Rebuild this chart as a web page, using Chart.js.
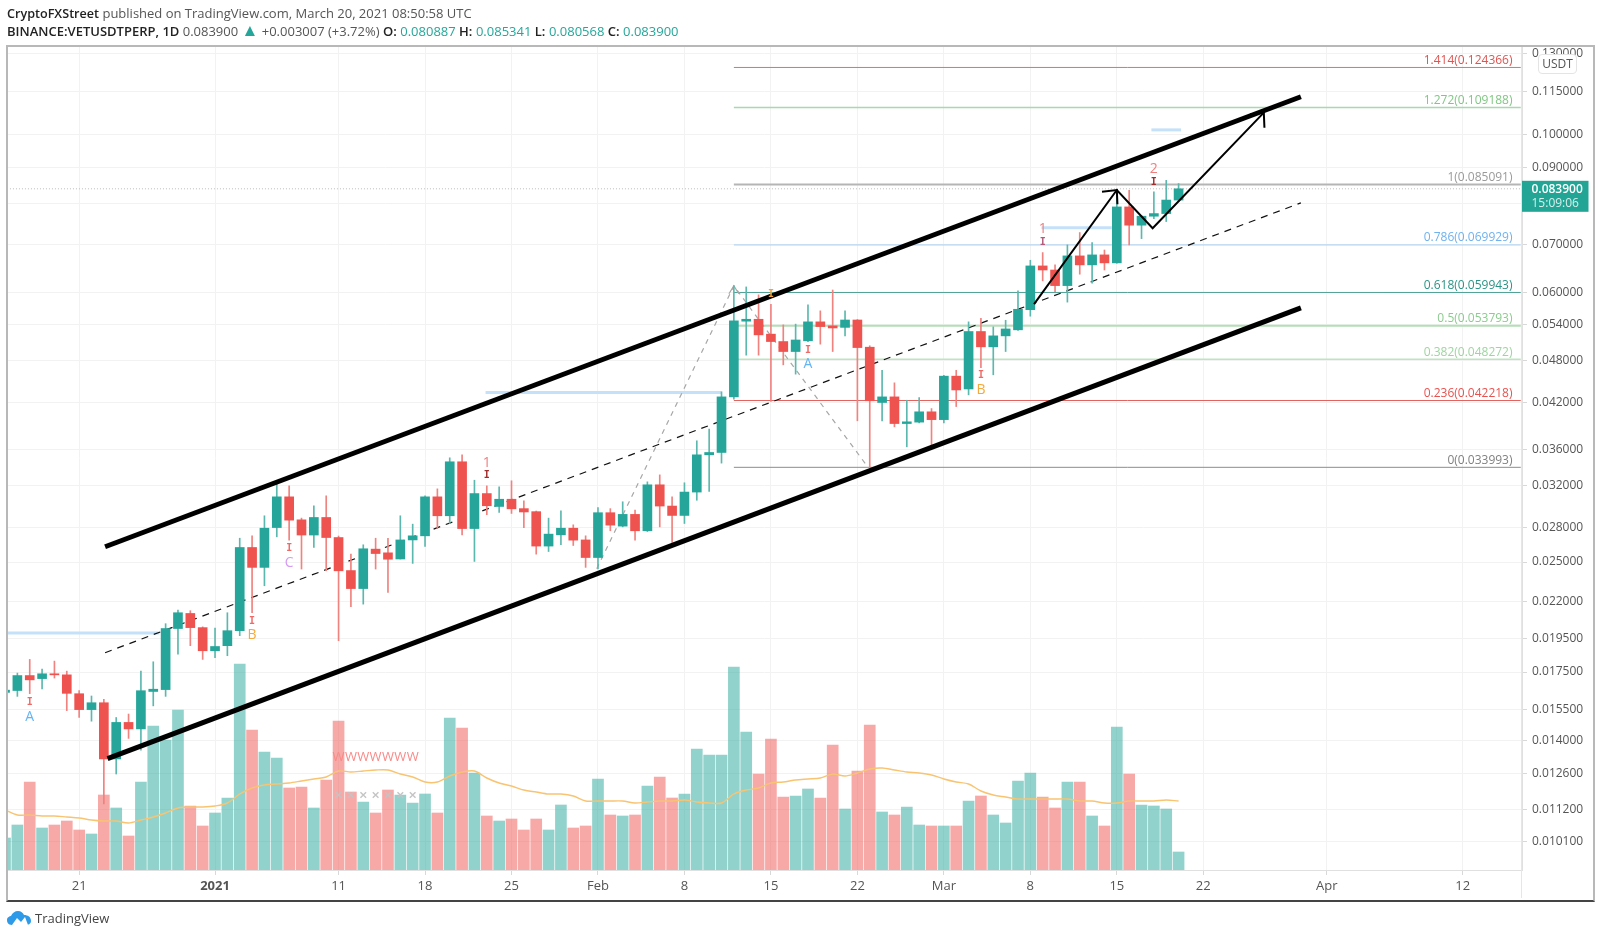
<!DOCTYPE html>
<html>
<head>
<meta charset="utf-8">
<title>VETUSDTPERP</title>
<script src="https://cdn.jsdelivr.net/npm/chart.js@4/dist/chart.umd.min.js"></script>
<style>
  html, body { margin: 0; padding: 0; background: #fff; }
  body { width: 1600px; height: 938px; position: relative; overflow: hidden; font-family: "Open Sans", sans-serif; }
  canvas { position: absolute; left: 0; top: 0; }
  .head { position: absolute; left: 7px; font-size: 13px; color: #555; white-space: nowrap; line-height: 18px; }
  .head b { color: #222; font-weight: 600; font-size: 12.6px; }
  .head b.sym { font-size: 13px; }
  .head b.k { font-size: 13px; margin-right: 3.5px; }
  .head i { color: #26a69a; font-style: normal; }
  .head i.tri { font-size: 17px; line-height: 14px; }
  #frame { position: absolute; left: 6px; top: 45px; width: 1585px; height: 853px; border: 2px solid #b8b8b8; border-bottom: 2px solid #444; box-sizing: content-box; pointer-events: none; }
  #axisline { position: absolute; left: 1521px; top: 47px; width: 1px; height: 851px; background: #e6e6e6; }
  #unit { position: absolute; left: 1538px; top: 54px; width: 37px; height: 18px; line-height: 18px; text-align: center; font-size: 12px; color: #555; background: #fff; border: 1px solid #e4e4e4; border-radius: 4px; }
  #brand { position: absolute; left: 35px; top: 909px; font-size: 13px; color: #444; line-height: 18px; }
  #logo { position: absolute; left: 7px; top: 911px; }
</style>
</head>
<body>
<canvas id="myChart" width="1600" height="938"></canvas>
<div id="axisline"></div>
<div id="frame"></div>
<div class="head" style="top:4px"><b>CryptoFXStreet</b> published on TradingView.com, March 20, 2021 08:50:58 UTC</div>
<div class="head" style="top:22px"><b class="sym">BINANCE:VETUSDTPERP, 1D</b> 0.083900 <i class="tri">▲</i> +0.003007 (+3.72%) <b class="k">O:</b><i>0.080887</i> <b class="k">H:</b><i>0.085341</i> <b class="k">L:</b><i>0.080568</i> <b class="k">C:</b><i>0.083900</i></div>
<div id="unit">USDT</div>
<svg id="logo" width="24" height="15" viewBox="0 0 24 15"><path d="M5 14 C1 14 0 11 0 9 C0 6 3 5 4 5 C5 2 8 0 11 0 C14 0 16 2 17 4 C21 4 24 6 24 10 C24 13 21 14 19 14 Z" fill="#2f9be8"/><path d="M5 14 L10 7 L14 11 L18 6 L21 14 Z" fill="#fff"/></svg>
<div id="brand">TradingView</div>
<script>
// days counted from 1 Jan 2021, first candle is 15 Dec 2020
var firstDay = -17;

var opens = [
  .01638,.01648,.01730,.01713,.01740,.01734,.01631,.01549,.01584,.01320,
  .01486,.01455,.01643,.01653,.02015,.02116,.02021,.01875,.01906,.02001,
  .02621,.02457,.02796,.03089,.02867,.02729,.02889,.02707,.02432,.02294,
  .02607,.02576,.02525,.02686,.02722,.03089,.02905,.03461,.02787,.03122,
  .02994,.03065,.02973,.02944,.02633,.02731,.02790,.02686,.02537,.02934,
  .02809,.02918,.02767,.03212,.02998,.02908,.03137,.03540,.03567,.04272,
  .05461,.05495,.05236,.05112,.04949,.05124,.05449,.05378,.05352,.05482,
  .05019,.04195,.04272,.03918,.03936,.04070,.03968,.04569,.04383,.05281,
  .05025,.05207,.05310,.05669,.06533,.06447,.06129,.06749,.06555,.06771,
  .06598,.07911,.07456,.07676,.07742,.080887
];
var highs = [
  .01656,.01744,.01823,.01766,.01813,.01755,.01648,.01619,.01601,.01510,
  .01527,.01755,.01809,.02047,.02139,.02135,.02026,.02018,.02121,.02701,
  .02722,.02905,.03236,.03201,.02883,.03001,.03099,.02720,.02565,.02644,
  .02701,.02701,.02905,.02827,.03100,.03170,.03506,.03540,.03260,.03201,
  .03191,.03254,.03050,.02950,.02883,.02953,.02821,.02722,.02984,.02973,
  .03040,.02958,.03243,.03317,.03089,.03233,.03705,.03847,.04343,.06123,
  .06103,.05948,.05770,.05396,.05409,.05757,.05647,.06042,.05647,.05490,
  .05042,.04657,.04471,.04226,.04262,.04113,.04580,.04657,.05449,.05513,
  .05361,.05477,.06026,.06654,.06822,.06555,.06994,.07280,.07047,.06879,
  .08357,.08350,.07690,.08307,.08624,.085341
];
var lows = [
  .01630,.01617,.01631,.01657,.01716,.01544,.01510,.01492,.01141,.01257,
  .01411,.01358,.01568,.01617,.01855,.01906,.01823,.01834,.01845,.01969,
  .02121,.02315,.02713,.02684,.02444,.02621,.02430,.01937,.02164,.02181,
  .02444,.02265,.02525,.02489,.02629,.02787,.02833,.02731,.02505,.02915,
  .02937,.02927,.02796,.02565,.02587,.02644,.02638,.02457,.02444,.02767,
  .02802,.02684,.02760,.02802,.02664,.02833,.03055,.03143,.03446,.04240,
  .04891,.04891,.04208,.04740,.04599,.05110,.05069,.04949,.05207,.03953,
  .03390,.03953,.03876,.03633,.03925,.03625,.03927,.04140,.04300,.04698,
  .04589,.04949,.05300,.05550,.06224,.06012,.05809,.06360,.06177,.06447,
  .06590,.06994,.07138,.07615,.07544,.080568
];
var closes = [
  .01650,.01730,.01706,.01740,.01734,.01633,.01549,.01584,.01320,.01486,
  .01455,.01647,.01655,.02015,.02121,.02021,.01875,.01901,.02001,.02621,
  .02457,.02790,.03089,.02864,.02729,.02889,.02707,.02430,.02294,.02610,
  .02570,.02523,.02686,.02722,.03089,.02905,.03461,.02787,.03122,.03001,
  .03065,.02971,.02941,.02633,.02737,.02790,.02684,.02537,.02934,.02818,
  .02918,.02767,.03212,.02998,.02908,.03137,.03540,.03567,.04272,.05467,
  .05495,.05224,.05112,.04949,.05138,.05449,.05366,.05342,.05482,.05013,
  .04218,.04272,.03918,.03940,.04070,.03968,.04569,.04369,.05281,.05025,
  .05207,.05325,.05676,.06533,.06447,.06129,.06749,.06555,.06771,.06598,
  .07911,.07456,.07676,.07742,.080893,.083900
];
var volumes = [
  32,45,88,42,45,49,40,36,75,62,
  34,88,144,130,160,64,44,57,72,206,
  140,118,112,82,83,62,90,149,78,68,
  57,80,75,67,76,57,152,142,97,54,
  49,51,40,51,40,65,42,44,91,55,
  54,55,84,93,72,76,121,115,115,203,
  138,96,131,73,74,81,72,125,61,99,
  145,58,55,63,45,44,44,44,69,74,
  55,47,89,97,73,62,88,88,54,44,
  143,96,65,64,61,18
];
var volumeMA = [
  60,55,55,54,54,53,52,50,49,49,
  47,50,53,57,62,63,63,64,67,76,
  82,85,86,87,89,91,93,99,98,99,
  100,100,96,93,88,88,94,98,99,92,
  87,84,80,78,76,76,74,69,69,69,
  69,67,68,69,69,70,68,67,67,76,
  80,82,87,88,90,91,92,96,94,97,
  101,102,100,98,97,95,91,88,86,79,
  75,73,71,71,71,71,71,69,69,67,
  67,69,69,69,70,69
];

var priceTicks = [.13,.115,.1,.09,.08,.07,.06,.054,.048,.042,.036,.032,.028,.025,.022,.0195,.0175,.0155,.014,.0126,.0112,.0101];
var dateTickDays = [-11,0,10,17,24,31,38,45,52,59,66,73,80,90,101];
var dateTickLabels = ['21','2021','11','18','25','Feb','8','15','22','Mar','8','15','22','Apr','12'];

var fibRatios = ['1.414','1.272','1','0.786','0.618','0.5','0.382','0.236','0'];
var fibPrices = [.124366,.109188,.085091,.069929,.059943,.053793,.048272,.042218,.033993];
var fibStartDay = 42, fibEndDay = 105.7;

var lastPrice = .0839;

var channelTop = [{x:-8.9,y:.02627},{x:87.9,y:.1131}];
var channelBottom = [{x:-8.7,y:.01321},{x:87.9,y:.05701}];
var channelMid = [{x:-8.9,y:.01863},{x:87.9,y:.08016}];
var zigzag = [{x:30.9,y:.02446},{x:42,y:.06123},{x:52.9,y:.03393}];
var zigzagHead = [{x:41.6,y:.0597},{x:42,y:.06123},{x:42.4,y:.0597}];
var forecast = [{x:66.3,y:.05771},{x:73,y:.08357},{x:75.9,y:.07382},{x:84.9,y:.10743}];
var forecastHead1 = [{x:71.8,y:.08307},{x:73,y:.08357},{x:73.05,y:.07982}];
var forecastHead2 = [{x:83.8,y:.10686},{x:84.9,y:.10743},{x:84.95,y:.10230}];
var levelBars = [
  [{x:-17.5,y:.01986},{x:-4.5,y:.01986}],
  [{x:21.9,y:.04333},{x:41,y:.04333}],
  [{x:66.9,y:.07397},{x:72.6,y:.07397}],
  [{x:75.8,y:.10157},{x:78.2,y:.10157}]
];

var letterDays = [-15,3,6,22,48,62,67,76];
var letterPrices = [.01513,.01975,.02495,.03442,.04755,.04369,.07365,.08947];
var letterTexts = ['A','B','C','1','A','B','1','2'];
var beamDays = [-15,3,6,22,45,48,62,67,76];
var beamPrices = [.01584,.02060,.02610,.03307,.05948,.04974,.04574,.07040,.08552];
var waveDays = [10,11,12,13,14,15,16];
var wavePrice = .01325;
var crossVolume = 75;

var days = opens.map(function(v, i) { return firstDay + i; });
var up = opens.map(function(v, i) { return closes[i] >= v; });

var TEAL = '#26a69a', RED = '#ef5350';
var fibColors = ['#e0534f','#81c784','#9a9a9a','#6fb2ee','#2a9486','#8ccb8f','#9ed4a1','#e8534f','#808080'];
var fibLineColors = ['#d9726f','#a9d8ab','#b5b5b5','#a6cdf2','#4c9f94','#b4deb6','#bfe3c0','#e0635f','#8c8c8c'];
var fibWidths = [1,1.5,2,1,1,2,1.5,1,1];
var letterColors = {A:'#64b5f6', B:'#f5a93c', C:'#d69bf2', '1':'#f08080', '2':'#f08080'};
var beamColors = {22:'#a32b2b', 45:'#f2a13a', 67:'#b25a7a', 76:'#a32b2b'};

function lineSet(points, color, width, dash, order) {
  return { type:'line', data:points, borderColor:color, borderWidth:width, borderDash:dash || [],
           pointRadius:0, tension:0, fill:false, order:order, yAxisID:'y' };
}

var datasets = [];
datasets.push({ type:'bar', data:days.map(function(d,i){ return {x:d, y:volumes[i]}; }), yAxisID:'yVol',
  backgroundColor:up.map(function(u){ return u ? 'rgba(38,166,154,.5)' : 'rgba(239,83,80,.5)'; }),
  barThickness:11, grouped:false, order:20 });
datasets.push({ type:'line', data:days.map(function(d,i){ return {x:d, y:volumeMA[i]}; }), yAxisID:'yVol',
  borderColor:'#f8c471', borderWidth:1.4, pointRadius:0, tension:.3, order:19 });
datasets.push({ type:'scatter', data:waveDays.map(function(d){ return {x:d, y:crossVolume}; }), yAxisID:'yVol',
  pointStyle:'crossRot', pointRadius:4, pointBorderColor:'#c4c4c4', pointBorderWidth:1.4, order:18 });
fibPrices.forEach(function(p, i) {
  datasets.push(lineSet([{x:fibStartDay,y:p},{x:fibEndDay,y:p}], fibLineColors[i], fibWidths[i], null, 16));
});
levelBars.forEach(function(pts) { datasets.push(lineSet(pts, '#c5e1f9', 3, null, 15)); });
datasets.push(lineSet([{x:-20,y:lastPrice},{x:106,y:lastPrice}], '#bdbdbd', 1, [1,2], 14));
datasets.push(lineSet(zigzag, '#a6a6a6', 1.2, [5,5], 13));
datasets.push(lineSet(zigzagHead, '#a6a6a6', 1.2, null, 13));
datasets.push(lineSet(channelMid, '#111', 1.2, [7,6], 12));
datasets.push({ type:'bar', data:days.map(function(d,i){ return {x:d, y:[lows[i], highs[i]]}; }), yAxisID:'y',
  backgroundColor:up.map(function(u){ return u ? '#5cb8ae' : '#f0827f'; }), barThickness:1, grouped:false, order:6 });
datasets.push({ type:'bar', data:days.map(function(d,i){ return {x:d, y:[opens[i], closes[i]]}; }), yAxisID:'y',
  backgroundColor:up.map(function(u){ return u ? TEAL : RED; }), barThickness:9, grouped:false, order:5 });
datasets.push(lineSet(channelTop, '#000', 5, null, 3));
datasets.push(lineSet(channelBottom, '#000', 5, null, 3));
datasets.push(lineSet(forecast, '#000', 2, null, 2));
datasets.push(lineSet(forecastHead1, '#000', 2, null, 2));
datasets.push(lineSet(forecastHead2, '#000', 2, null, 2));

// labels that sit on the price scale: fib levels, small chart signs, last price tag
var overlayPlugin = {
  id: 'overlay',
  afterDatasetsDraw: function(chart) {
    var c = chart.ctx, sx = chart.scales.x, sy = chart.scales.y;
    c.save();
    c.font = '12px "Open Sans"';
    c.textAlign = 'right';
    c.textBaseline = 'bottom';
    fibPrices.forEach(function(p, i) {
      c.fillStyle = fibColors[i];
      c.fillText(fibRatios[i] + '(' + p.toFixed(6) + ')', 1512.5, sy.getPixelForValue(p) - 1);
    });
    c.textAlign = 'center';
    c.textBaseline = 'middle';
    c.font = '14px "Open Sans"';
    letterTexts.forEach(function(t, i) {
      c.fillStyle = letterColors[t];
      c.fillText(t, sx.getPixelForValue(letterDays[i]), sy.getPixelForValue(letterPrices[i]));
    });
    c.font = 'bold 10px "DejaVu Sans Mono"';
    beamDays.forEach(function(d, i) {
      c.fillStyle = beamColors[d] || '#ee6a67';
      c.fillText('I', sx.getPixelForValue(d), sy.getPixelForValue(beamPrices[i]));
    });
    c.font = '13px "Open Sans"';
    c.fillStyle = '#f88a88';
    waveDays.forEach(function(d) {
      c.fillText('W', sx.getPixelForValue(d), sy.getPixelForValue(wavePrice));
    });
    c.restore();
  },
  afterDraw: function(chart) {
    var c = chart.ctx, sy = chart.scales.y;
    var py = sy.getPixelForValue(lastPrice);
    c.save();
    c.fillStyle = '#22a595';
    c.fillRect(1521.5, py - 8, 67, 31);
    c.textAlign = 'left';
    c.textBaseline = 'middle';
    c.font = '600 12px "Open Sans"';
    c.fillStyle = '#fff';
    c.fillText('0.083900', 1531.5, py + 0.5);
    c.font = '12px "Open Sans"';
    c.fillStyle = '#d5f0ec';
    c.fillText('15:09:06', 1531.5, py + 15);
    c.restore();
  }
};

var ctx = document.getElementById('myChart').getContext('2d');
var myChart = new Chart(ctx, {
  type: 'bar',
  data: { datasets: datasets },
  plugins: [overlayPlugin],
  options: {
    responsive: false,
    animation: false,
    devicePixelRatio: 1,
    layout: { padding: { left: 7, top: 47, right: 7, bottom: 39 } },
    plugins: { legend: { display: false }, tooltip: { enabled: false } },
    scales: {
      x: {
        type: 'linear',
        offset: false,
        min: -16.84,
        max: 105.8,
        afterBuildTicks: function(s) { s.ticks = dateTickDays.map(function(d){ return {value:d}; }); },
        afterFit: function(s) { s.height = 29; },
        grid: { offset:false, color:'#f2f2f2', tickColor:'#d8d8d8', tickLength:5 },
        border: { color:'#e0e0e0' },
        ticks: {
          autoSkip:false, maxRotation:0, padding:3, color:'#555',
          font: function(c) { return c.tick && c.tick.value === 0 ? {family:'"Open Sans"', size:13, weight:'bold'} : {family:'"Open Sans"', size:13}; },
          callback: function(v) { return dateTickLabels[dateTickDays.indexOf(v)]; }
        }
      },
      y: {
        type: 'logarithmic',
        position: 'right',
        min: .009207,
        max: .1329,
        afterBuildTicks: function(s) { s.ticks = priceTicks.map(function(v){ return {value:v}; }); },
        afterFit: function(s) { s.width = 71; },
        grid: { color:'#f2f2f2', tickColor:'#d8d8d8', tickLength:5 },
        border: { color:'#e0e0e0' },
        ticks: {
          autoSkip:false, padding:5, color:'#555', font:{family:'"Open Sans"', size:12},
          callback: function(v) { return Number(v).toFixed(6); }
        }
      },
      yVol: { type:'linear', display:false, min:0, max:823 }
    }
  }
});
</script>
</body>
</html>
